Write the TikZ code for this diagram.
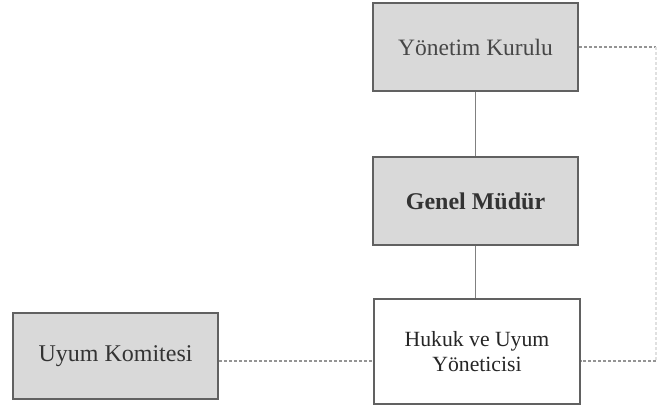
\documentclass[tikz,border=0pt]{standalone}
\usepackage{fontspec}
\setmainfont{Liberation Serif}
\begin{document}
\begin{tikzpicture}[x=1pt,y=-1pt,
  box/.style={draw=black!62, line width=1.8pt, rectangle, inner sep=0pt, align=center, text=black!85},
  grey/.style={fill=black!15},
  link/.style={draw=black!50, line width=1.8pt},
  dotlink/.style={draw=black!42, line width=1.6pt, dash pattern=on 3pt off 2pt},
  faintlink/.style={draw=black!12, line width=1.2pt, dash pattern=on 3pt off 2pt}]
\useasboundingbox (0,0) rectangle (657,412);
\node[box, grey, minimum width=205pt, minimum height=88pt, font=\fontsize{23.5}{25}\selectfont, text=black!72] (yk) at (475.5,47) {Yönetim Kurulu};
\node[box, grey, minimum width=205pt, minimum height=88pt, font=\fontsize{24}{25}\selectfont\bfseries, text=black!80] (gm) at (475.5,201) {Genel Müdür};
\node[box, fill=white, minimum width=206pt, minimum height=105pt, font=\fontsize{21.7}{25}\selectfont] (hu) at (477,351.5) {Hukuk ve Uyum\\Yöneticisi};
\node[box, grey, minimum width=205pt, minimum height=86pt, font=\fontsize{24}{25}\selectfont, text=black!80] (uk) at (115.5,356) {Uyum Komitesi};
\coordinate (r1) at (656,47);
\coordinate (r2) at (656,361);
\draw[link] (yk.south) -- (gm.north);
\draw[link] (gm.south) -- (gm.south |- hu.north);
\draw[dotlink] (yk.east) -- (r1);
\draw[faintlink] (r1) -- (r2);
\draw[dotlink] (r2) -- (hu.east |- r2);
\draw[dotlink] (uk.east |- r2) -- (hu.west |- r2);
\end{tikzpicture}
\end{document}
